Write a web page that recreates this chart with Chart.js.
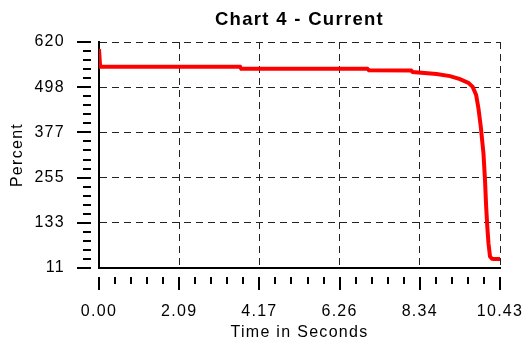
<!DOCTYPE html>
<html><head><meta charset="utf-8">
<script src="https://cdn.jsdelivr.net/npm/chart.js@4"></script>
<style>html,body{margin:0;padding:0;background:#fff;overflow:hidden;}</style>
</head><body>
<canvas id="c" width="528" height="341"></canvas>
<script>
const timeSeconds = [0, 0.03, 3.67, 3.70, 6.98, 7.02, 8.12, 8.16, 8.78, 9.13, 9.39, 9.61, 9.72, 9.81, 9.87, 9.93, 10.00, 10.04, 10.07, 10.10, 10.13, 10.17, 10.22, 10.26, 10.43];
const currentPercent = [601, 553, 553, 548, 548, 544, 543, 539, 534, 528, 520, 510, 499, 477, 441, 392, 320, 248, 176, 122, 78, 42, 36, 35, 35];
const xTickValues = [0, 2.086, 4.172, 6.258, 8.344, 10.43];
const xTickLabels = ['0.00', '2.09', '4.17', '6.26', '8.34', '10.43'];
const yTickValues = [11, 132.8, 254.6, 376.4, 498.2, 620];
const yTickLabels = ['11', '133', '255', '377', '498', '620'];
const minorPerMajor = 5;

const FONT = "'Liberation Sans', Arial, sans-serif";
const SPACING = '1.3px';

const spacingPlugin = {
  id: 'spacing',
  beforeUpdate(c) { c.ctx.letterSpacing = SPACING; },
  beforeLayout(c) { c.ctx.letterSpacing = SPACING; },
  beforeDraw(c) { c.ctx.letterSpacing = SPACING; }
};

const tickMarks = {
  id: 'tickMarks',
  afterDraw(c) {
    const ctx = c.ctx, xs = c.scales.x, ys = c.scales.y;
    const left = c.chartArea.left, bottom = c.chartArea.bottom;
    ctx.save();
    ctx.strokeStyle = '#000';
    ctx.lineWidth = 2;
    ctx.beginPath();
    for (let i = 0; i < yTickValues.length; i++) {
      const y = Math.round(ys.getPixelForValue(yTickValues[i]));
      ctx.moveTo(left - 22, y); ctx.lineTo(left - 8, y);
      if (i < yTickValues.length - 1) {
        for (let k = 1; k < minorPerMajor; k++) {
          const v = yTickValues[i] + (yTickValues[i + 1] - yTickValues[i]) * k / minorPerMajor;
          const yy = Math.round(ys.getPixelForValue(v));
          ctx.moveTo(left - 16, yy); ctx.lineTo(left - 8, yy);
        }
      }
    }
    for (let i = 0; i < xTickValues.length; i++) {
      const x = Math.round(xs.getPixelForValue(xTickValues[i]));
      ctx.moveTo(x, bottom + 9); ctx.lineTo(x, bottom + 22);
      if (i < xTickValues.length - 1) {
        for (let k = 1; k < minorPerMajor; k++) {
          const v = xTickValues[i] + (xTickValues[i + 1] - xTickValues[i]) * k / minorPerMajor;
          const xx = Math.round(xs.getPixelForValue(v));
          ctx.moveTo(xx, bottom + 9); ctx.lineTo(xx, bottom + 16);
        }
      }
    }
    ctx.stroke();
    ctx.restore();
  }
};

new Chart(document.getElementById('c'), {
  type: 'line',
  data: {
    datasets: [{
      data: timeSeconds.map((t, i) => ({x: t, y: currentPercent[i]})),
      borderColor: '#ff0000',
      borderWidth: 4,
      pointRadius: 0,
      tension: 0,
      fill: false
    }]
  },
  options: {
    responsive: false,
    animation: false,
    devicePixelRatio: 1,
    layout: {padding: {left: 0, right: 28, top: 0, bottom: 0}},
    plugins: {
      legend: {display: false},
      tooltip: {enabled: false},
      title: {
        display: true,
        text: 'Chart 4 - Current',
        fullSize: false,
        color: '#000',
        font: {family: FONT, size: 18.5, weight: 'bold', lineHeight: 1},
        padding: {top: 10.3, bottom: 13.2}
      }
    },
    scales: {
      x: {
        type: 'linear',
        min: 0,
        max: 10.43,
        afterFit(s) { s.height = 73; s.paddingLeft = 0; s.paddingRight = 0; },
        afterBuildTicks(s) { s.ticks = xTickValues.map(v => ({value: v})); },
        ticks: {
          autoSkip: false,
          maxRotation: 0,
          padding: 34,
          color: '#000',
          font: {family: FONT, size: 16},
          callback: (v, i) => xTickLabels[i]
        },
        grid: {color: '#222', lineWidth: 1, drawTicks: false},
        border: {display: true, color: '#000', width: 2, dash: [7, 5]},
        title: {
          display: true,
          text: 'Time in Seconds',
          color: '#000',
          font: {family: FONT, size: 16, lineHeight: 1},
          padding: {top: 0, bottom: 0}
        }
      },
      y: {
        type: 'linear',
        min: 11,
        max: 620,
        afterFit(s) { s.width = 99; s.paddingTop = 0; s.paddingBottom = 0; },
        afterBuildTicks(s) { s.ticks = yTickValues.map(v => ({value: v})); },
        ticks: {
          autoSkip: false,
          padding: 34,
          color: '#000',
          font: {family: FONT, size: 16},
          callback: (v, i) => yTickLabels[i]
        },
        grid: {color: '#222', lineWidth: 1, drawTicks: false},
        border: {display: true, color: '#000', width: 2, dash: [7, 5]},
        title: {
          display: true,
          text: 'Percent',
          color: '#000',
          font: {family: FONT, size: 16, lineHeight: 1},
          padding: {top: 10, bottom: 0}
        }
      }
    }
  },
  plugins: [spacingPlugin, tickMarks]
});
</script>
</body></html>
